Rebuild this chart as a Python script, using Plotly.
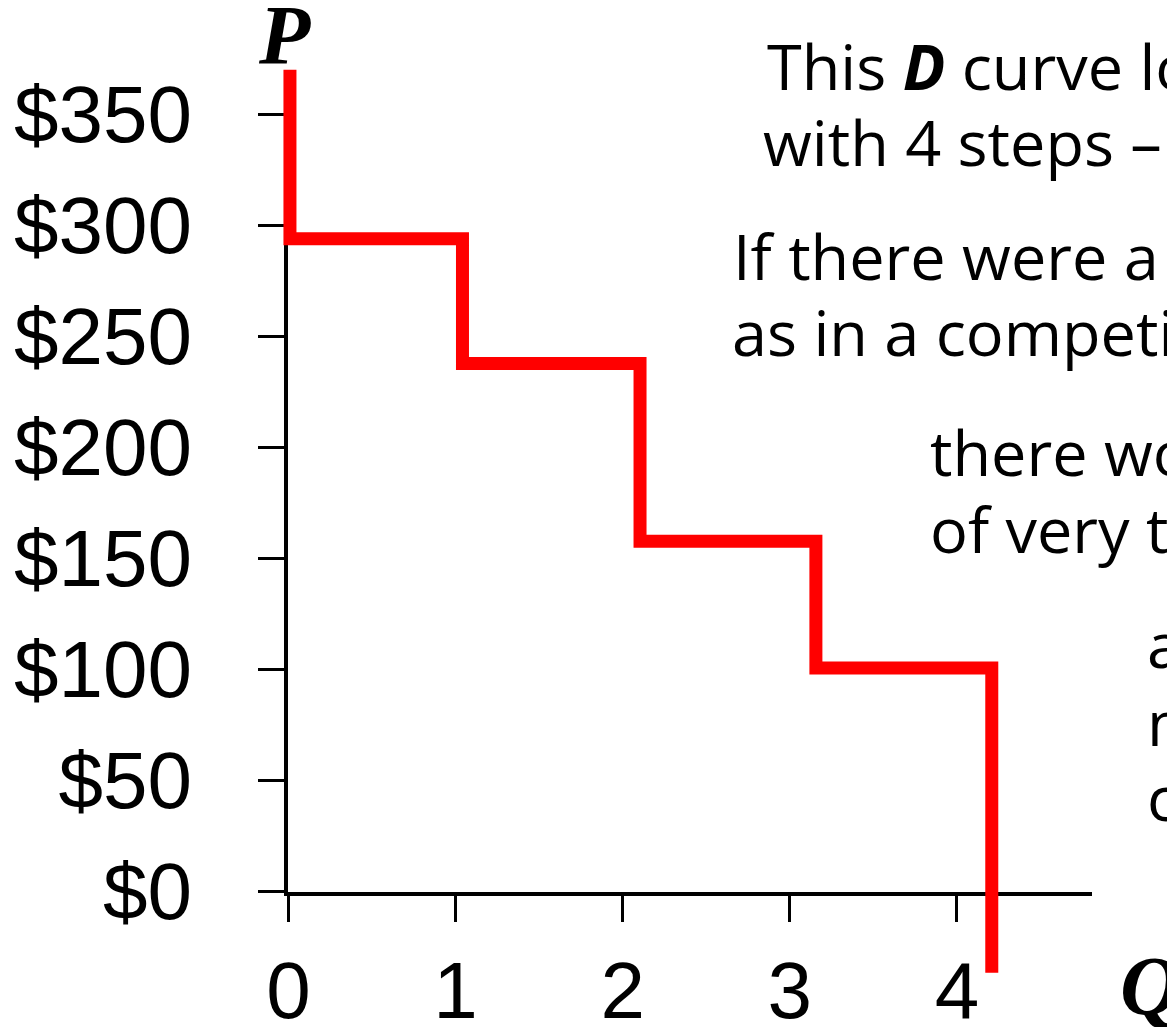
import plotly.graph_objects as go

# demand staircase, values
quantity = [0.02, 1.05, 2.11, 3.16, 4.21, 4.21]
price = [370, 294, 238, 158, 101, -36]

q_ticks = [0, 1, 2, 3, 4]
q_labels = ["0", "1", "2", "3", "4"]
p_ticks = [0, 50, 100, 150, 200, 250, 300, 350]
p_labels = ["$0", "$50", "$100", "$150", "$200", "$250", "$300", "$350"]

notes = [
    "This <b><i>D</i></b> curve looks like a staircase",
    "with 4 steps \u2013 one per buyer.",
    "If there were a huge # of buyers,",
    "as in a competitive market,",
    "there would be a huge #",
    "of very tiny steps,",
    "and it would look",
    "more like a smooth",
    "curve.",
]

W, H = 1175, 1027
OFF = 8                        # page body margin
X0_PX, X_UNIT = 286.6, 167.5   # window pixel of q=0, pixels per unit
Y0_PX, Y_UNIT = 892.7, 2.224   # window pixel of $0, pixels per dollar


def fx(px):
    return (px - OFF) / W


def fy(py):
    return 1 - (py - OFF) / H


fig = go.Figure()

# empty marker trace so the P/Q axes subplot gets drawn
fig.add_trace(go.Scatter(x=q_ticks, y=[0] * len(q_ticks), mode="markers",
                         marker=dict(opacity=0), hoverinfo="skip", showlegend=False))

# the red D curve sits on a full-page hidden subplot so it can run below the Q axis
fig.add_trace(go.Scatter(
    x=quantity, y=price, xaxis="x2", yaxis="y2", mode="lines",
    line=dict(color="#ff0000", width=13, shape="vh"),
    hoverinfo="skip", showlegend=False,
))

tick_font = dict(family="Liberation Sans, Arial", size=80, color="black")
axis_style = dict(
    showline=True, linecolor="black", linewidth=4,
    ticks="outside", ticklen=26, tickwidth=3, tickcolor="black",
    tickfont=tick_font, showgrid=False, zeroline=False, automargin=False,
)

# plot box of the P/Q axes, in window pixels
x_left, x_right, y_top, y_bottom = 288, 1092, 71, 891.7
fig.update_layout(
    width=W, height=H,
    margin=dict(l=0, r=0, t=0, b=0, autoexpand=False),
    paper_bgcolor="white", plot_bgcolor="rgba(0,0,0,0)",
    showlegend=False,
    xaxis=dict(
        domain=[fx(x_left), fx(x_right)],
        range=[-0.003, (x_right - X0_PX) / X_UNIT],
        anchor="y", tickvals=q_ticks, ticktext=q_labels, ticklabelstandoff=0,
        **axis_style,
    ),
    yaxis=dict(
        domain=[fy(y_bottom), fy(y_top)],
        range=[-0.2, (Y0_PX - y_top) / Y_UNIT],
        anchor="x", tickvals=p_ticks, ticktext=p_labels, ticklabelstandoff=50,
        **axis_style,
    ),
    xaxis2=dict(
        domain=[0, 1], anchor="y2", visible=False,
        range=[(OFF - X0_PX) / X_UNIT, (W + OFF - X0_PX) / X_UNIT],
    ),
    yaxis2=dict(
        domain=[0, 1], anchor="x2", visible=False,
        range=[(Y0_PX - H - OFF) / Y_UNIT, (Y0_PX - OFF) / Y_UNIT],
    ),
)

axis_font = dict(family="Liberation Serif, Times New Roman", size=84, color="black")
fig.add_annotation(text="<b><i>P</i></b>", x=fx(284), y=fy(35), xref="paper", yref="paper",
                   xanchor="center", yanchor="middle", showarrow=False, font=axis_font)
fig.add_annotation(text="<b><i>Q</i></b>", x=fx(1150), y=fy(986), xref="paper", yref="paper",
                   xanchor="center", yanchor="middle", showarrow=False, font=axis_font)

# slide text, clipped at the right edge like the original
note_font = dict(family="Open Sans", size=63, color="black")
note_left = [765, 761, 731, 730, 928, 928, 1145, 1145, 1145]
note_base = [92, 168, 282, 358, 478, 555, 670, 748, 823]
for text, left, base in zip(notes, note_left, note_base):
    fig.add_annotation(text=text, x=fx(left), y=fy(base - 26.5), xref="paper", yref="paper",
                       xanchor="left", yanchor="middle", showarrow=False, font=note_font)

fig.write_html("out.html")
